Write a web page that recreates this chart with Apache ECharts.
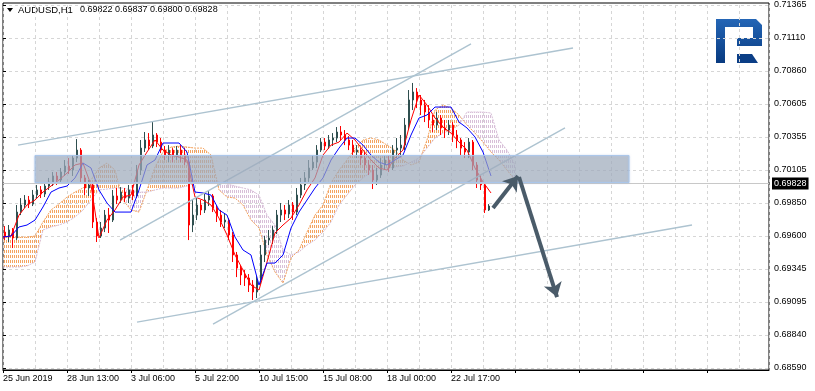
<!DOCTYPE html>
<html><head><meta charset="utf-8">
<script src="https://cdn.jsdelivr.net/npm/echarts@6/dist/echarts.min.js"></script>
<style>html,body{margin:0;padding:0;background:#fff}#c{width:815px;height:391px}</style>
</head><body><div id="c"></div>
<script>
// ---------- text ----------
const symbolName = 'AUDUSD,H1';
const headerOHLC = ['0.69822', '0.69837', '0.69800', '0.69828'];
const lastPrice = 0.69828;
const xTickLabels = ['25 Jun 2019', '28 Jun 13:00', '3 Jul 06:00', '5 Jul 22:00', '10 Jul 15:00', '15 Jul 08:00', '18 Jul 00:00', '22 Jul 17:00'];
const yTickLabels = ['0.68590', '0.68840', '0.69095', '0.69345', '0.69600', '0.69850', '0.70105', '0.70355', '0.70605', '0.70860', '0.71110', '0.71365'];
const priceMin = 0.68590, priceMax = 0.71365;

// ---------- candles (4-hour groups, x = hour offset of group centre) ----------
const candleOpen = [0.69629,0.69599,0.69645,0.69584,0.69782,0.69836,0.69874,0.69843,0.69912,0.69951,
0.69920,0.69981,0.70012,0.70058,0.70027,0.70088,0.70134,0.70103,0.70195,0.70256,
0.70043,0.69966,0.69989,0.69706,0.69599,0.69660,0.69759,0.69721,0.69905,0.69874,
0.69935,0.69889,0.69951,0.69905,0.70103,0.70271,0.70333,0.70287,0.70371,0.70317,
0.70256,0.70218,0.70256,0.70210,0.70256,0.70218,0.70164,0.69683,0.69759,0.69836,
0.69798,0.69874,0.69905,0.69813,0.69759,0.69706,0.69721,0.69607,0.69454,0.69354,
0.69301,0.69278,0.69224,0.69171,0.69262,0.69454,0.69568,0.69584,0.69645,0.69759,
0.69798,0.69767,0.69836,0.69782,0.69912,0.69989,0.70043,0.70119,0.70164,0.70256,
0.70317,0.70287,0.70333,0.70348,0.70394,0.70371,0.70333,0.70294,0.70241,0.70256,
0.70195,0.70142,0.70103,0.70027,0.70065,0.70142,0.70180,0.70119,0.70256,0.70271,
0.70294,0.70447,0.70639,0.70700,0.70639,0.70600,0.70547,0.70486,0.70447,0.70501,
0.70425,0.70409,0.70447,0.70371,0.70333,0.70271,0.70241,0.70317,0.70142,0.70027,
0.69989,0.69798];
const candleClose = [0.69599,0.69645,0.69584,0.69782,0.69836,0.69874,0.69843,0.69912,0.69951,0.69920,
0.69981,0.70012,0.70058,0.70027,0.70088,0.70134,0.70103,0.70195,0.70256,0.70043,
0.69966,0.69989,0.69706,0.69599,0.69660,0.69759,0.69721,0.69905,0.69874,0.69935,
0.69889,0.69951,0.69905,0.70103,0.70271,0.70333,0.70287,0.70371,0.70317,0.70256,
0.70218,0.70256,0.70210,0.70256,0.70218,0.70164,0.69683,0.69759,0.69836,0.69798,
0.69874,0.69905,0.69813,0.69759,0.69706,0.69721,0.69607,0.69454,0.69354,0.69301,
0.69278,0.69224,0.69171,0.69262,0.69454,0.69568,0.69584,0.69645,0.69759,0.69798,
0.69767,0.69836,0.69782,0.69912,0.69989,0.70043,0.70119,0.70164,0.70256,0.70317,
0.70287,0.70333,0.70348,0.70394,0.70371,0.70333,0.70294,0.70241,0.70256,0.70195,
0.70142,0.70103,0.70027,0.70065,0.70142,0.70180,0.70119,0.70256,0.70271,0.70294,
0.70447,0.70639,0.70700,0.70639,0.70600,0.70547,0.70486,0.70447,0.70501,0.70425,
0.70409,0.70447,0.70371,0.70333,0.70271,0.70241,0.70317,0.70142,0.70027,0.69989,
0.69798,0.69828];
const candleHigh = [0.69675,0.69683,0.69660,0.69836,0.69889,0.69912,0.69905,0.69951,0.69989,0.69981,
0.70012,0.70043,0.70088,0.70088,0.70119,0.70180,0.70195,0.70218,0.70340,0.70271,
0.70065,0.70027,0.70004,0.69736,0.69706,0.69798,0.69813,0.69951,0.69966,0.69973,
0.69966,0.69989,0.69989,0.70142,0.70333,0.70394,0.70386,0.70470,0.70386,0.70348,
0.70287,0.70294,0.70271,0.70287,0.70294,0.70271,0.70180,0.69874,0.69889,0.69874,
0.69920,0.69943,0.69920,0.69836,0.69798,0.69767,0.69736,0.69629,0.69477,0.69377,
0.69339,0.69308,0.69262,0.69293,0.69530,0.69599,0.69645,0.69675,0.69798,0.69851,
0.69836,0.69874,0.69859,0.69966,0.70043,0.70088,0.70180,0.70218,0.70294,0.70348,
0.70348,0.70371,0.70386,0.70432,0.70440,0.70409,0.70363,0.70333,0.70294,0.70271,
0.70241,0.70180,0.70142,0.70119,0.70195,0.70218,0.70218,0.70294,0.70348,0.70371,
0.70501,0.70715,0.70769,0.70730,0.70677,0.70639,0.70600,0.70524,0.70547,0.70524,
0.70486,0.70486,0.70470,0.70409,0.70348,0.70317,0.70348,0.70333,0.70164,0.70065,
0.70004,0.69843];
const candleLow = [0.69568,0.69553,0.69507,0.69568,0.69759,0.69813,0.69813,0.69828,0.69889,0.69889,
0.69897,0.69951,0.69981,0.69989,0.70012,0.70058,0.70073,0.70058,0.70164,0.70012,
0.69912,0.69905,0.69660,0.69553,0.69584,0.69629,0.69622,0.69706,0.69843,0.69851,
0.69859,0.69851,0.69874,0.69889,0.70065,0.70241,0.70256,0.70271,0.70279,0.70233,
0.70180,0.70164,0.70164,0.70180,0.70164,0.70142,0.69568,0.69629,0.69721,0.69759,
0.69775,0.69828,0.69782,0.69706,0.69668,0.69660,0.69568,0.69400,0.69285,0.69224,
0.69217,0.69171,0.69110,0.69125,0.69232,0.69400,0.69530,0.69538,0.69614,0.69706,
0.69721,0.69736,0.69721,0.69759,0.69889,0.69951,0.70012,0.70103,0.70119,0.70241,
0.70256,0.70264,0.70287,0.70317,0.70333,0.70294,0.70256,0.70218,0.70195,0.70142,
0.70103,0.70065,0.69958,0.69989,0.70043,0.70103,0.70088,0.70103,0.70195,0.70218,
0.70256,0.70409,0.70562,0.70577,0.70524,0.70470,0.70425,0.70394,0.70409,0.70371,
0.70348,0.70371,0.70317,0.70271,0.70218,0.70195,0.70195,0.70103,0.69966,0.69951,
0.69775,0.69790];
const candleHours = 4; // hours per drawn candle

// ---------- Ichimoku (sampled every 8 hours from the first bar) ----------
const ichiStep = 8;
const tenkan = [0.69591,0.69599,0.69759,0.69836,0.69874,0.69935,0.69981,0.70027,0.70080,0.70142,
0.70157,0.69989,0.69584,0.69721,0.69798,0.69897,0.69912,0.70142,0.70241,0.70333,
0.70256,0.70218,0.70203,0.70180,0.69897,0.69874,0.69836,0.69736,0.69607,0.69454,
0.69339,0.69224,0.69186,0.69400,0.69622,0.69683,0.69736,0.69836,0.69951,0.70043,
0.70218,0.70294,0.70317,0.70386,0.70333,0.70256,0.70180,0.70119,0.70103,0.70195,
0.70256,0.70486,0.70677,0.70600,0.70501,0.70432,0.70386,0.70317,0.70256,0.70119,
0.70012,0.69928];
const kijun = [0.69591,0.69599,0.69668,0.69683,0.69721,0.69821,0.69935,0.69966,0.69981,0.70043,
0.70157,0.70119,0.69951,0.69851,0.69782,0.69782,0.69782,0.69951,0.70142,0.70180,
0.70310,0.70310,0.70310,0.70241,0.69935,0.69928,0.69912,0.69798,0.69759,0.69591,
0.69492,0.69454,0.69224,0.69392,0.69392,0.69454,0.69660,0.69782,0.69874,0.69966,
0.70043,0.70180,0.70271,0.70348,0.70348,0.70294,0.70218,0.70164,0.70142,0.70180,
0.70218,0.70371,0.70501,0.70524,0.70585,0.70585,0.70585,0.70470,0.70425,0.70356,
0.70241,0.70058];
const senkouA = [0.69591,0.69591,0.69591,0.69591,0.69599,0.69706,0.69798,0.69843,0.69897,0.69935,
0.69966,0.70027,0.70119,0.70157,0.70103,0.69874,0.69798,0.69782,0.69951,0.70126,
0.70241,0.70279,0.70287,0.70279,0.70271,0.70271,0.70218,0.69951,0.69897,0.69889,
0.69836,0.69721,0.69660,0.69454,0.69324,0.69239,0.69431,0.69492,0.69629,0.69759,
0.69836,0.70004,0.70103,0.70180,0.70271,0.70333,0.70348,0.70333,0.70294,0.70256,
0.70180,0.70142,0.70164,0.70333,0.70562,0.70600,0.70577,0.70524,0.70447,0.70386,
0.70317,0.70241,0.70180,0.70103,0.70027];
const senkouB = [0.69362,0.69362,0.69362,0.69370,0.69400,0.69645,0.69668,0.69683,0.69706,0.69744,
0.69798,0.69874,0.69951,0.69958,0.69966,0.69966,0.69951,0.69935,0.69935,0.69951,
0.69966,0.69966,0.69966,0.69981,0.70004,0.70012,0.70012,0.70012,0.69996,0.69981,
0.69966,0.69951,0.69912,0.69759,0.69683,0.69492,0.69454,0.69477,0.69530,0.69568,
0.69629,0.69706,0.69836,0.69912,0.69989,0.70043,0.70088,0.70119,0.70119,0.70126,
0.70134,0.70164,0.70195,0.70271,0.70348,0.70386,0.70409,0.70447,0.70547,0.70547,
0.70547,0.70539,0.70333,0.70256,0.70142];

// ---------- drawn objects (hour offset, price) ----------
const trendLines = [
  [[15, 0.70294], [570, 0.71036]],
  [[117, 0.69568], [468, 0.71067]],
  [[210, 0.68926], [562, 0.70425]],
  [[134, 0.68941], [689, 0.69683]]
];
const zone = { x0: 32, x1: 626, top: 0.70214, bottom: 0.70008 };
const arrowPaths = [
  [[490, 0.69813], [515, 0.70058]],
  [[516, 0.70050], [554, 0.69132]]
];
const xSpan = 766;

// ---------- build ----------
const FONT = '"Liberation Sans", Arial, sans-serif';
function hatch(color) {
  const c = document.createElement('canvas');
  c.width = 2; c.height = 5;
  const g = c.getContext('2d');
  g.fillStyle = color; g.fillRect(0, 0, 1, 3);
  return { image: c, repeat: 'repeat' };
}
const orangeHatch = hatch('#f4a460');
const thistleHatch = hatch('#d8bfd8');

const candles = candleOpen.map((o, i) => [i * candleHours + candleHours / 2, o, candleClose[i], candleLow[i], candleHigh[i]]);
const ichiX = k => k * ichiStep;
const cloudData = senkouA.map((a, k) => [ichiX(k), a, senkouB[k]]);

const chart = echarts.init(document.getElementById('c'), null, { renderer: 'canvas' });
const gridLine = { show: true, lineStyle: { color: '#d6d6d6', type: [3, 3], width: 1 } };

chart.setOption({
  animation: false,
  backgroundColor: '#ffffff',
  grid: [
    { left: 3, right: 46, top: 5, bottom: 23 },
    { left: 3, right: 46, top: 3, bottom: 21, show: true, borderColor: '#000', borderWidth: 1, backgroundColor: 'transparent' }
  ],
  xAxis: [
    { gridIndex: 0, type: 'value', min: 0, max: xSpan, interval: 32,
      axisLine: { show: false }, axisTick: { show: false }, axisLabel: { show: false }, splitLine: gridLine },
    { gridIndex: 1, type: 'value', min: 0, max: xSpan, interval: 64, position: 'bottom',
      axisLine: { show: true, lineStyle: { color: '#000', width: 1 } },
      axisTick: { show: true, length: 3, lineStyle: { color: '#000' } },
      splitLine: { show: false },
      axisLabel: { formatter: v => xTickLabels[v / 64] || '', align: 'left', margin: 4,
        fontFamily: FONT, fontSize: 9, color: '#000', showMaxLabel: false } }
  ],
  yAxis: [
    { gridIndex: 0, type: 'value', min: 0, max: yTickLabels.length - 1, interval: 1, position: 'right',
      axisLine: { show: false },
      axisTick: { show: true, length: 3, lineStyle: { color: '#000' } },
      axisLabel: { formatter: v => yTickLabels[v] || '', margin: 5, fontFamily: FONT, fontSize: 9, color: '#000' },
      splitLine: gridLine },
    { gridIndex: 0, type: 'value', min: priceMin, max: priceMax, show: false, splitLine: { show: false } },
    { gridIndex: 1, type: 'value', min: 0, max: 1, show: false, splitLine: { show: false } }
  ],
  graphic: [
    { type: 'polygon', shape: { points: [[7, 8], [13, 8], [10, 12]] }, style: { fill: '#000' } },
    { type: 'text', x: 18, y: 5, style: { text: symbolName, font: '9.5px ' + FONT, fill: '#000' } },
    { type: 'text', x: 80, y: 5, style: { text: headerOHLC.join(' '), font: '9px ' + FONT, fill: '#000' } },
    { type: 'polygon', shape: { points: [[716, 19], [756, 19], [762, 25], [762, 46], [737, 46], [737, 38], [753, 38], [753, 27], [725, 27], [725, 63], [716, 63]] },
      style: { fill: { type: 'linear', x: 0, y: 0, x2: 0, y2: 1, colorStops: [{ offset: 0, color: '#2466b6' }, { offset: 1, color: '#083a80' }] } } },
    { type: 'polygon', shape: { points: [[737, 54], [752, 54], [758, 63], [737, 63]] }, style: { fill: '#0b3e86' } }
  ],
  series: [
    { type: 'custom', name: 'cloud', xAxisIndex: 0, yAxisIndex: 1, z: 1, silent: true, clip: true,
      data: cloudData, encode: { x: 0, y: [1, 2] },
      renderItem: function (params, api) {
        const k = params.dataIndex;
        if (k >= senkouA.length - 1) return null;
        const x0 = ichiX(k), x1 = ichiX(k + 1);
        const p1 = api.coord([x0, senkouA[k]]), p2 = api.coord([x1, senkouA[k + 1]]);
        const p3 = api.coord([x1, senkouB[k + 1]]), p4 = api.coord([x0, senkouB[k]]);
        const up = senkouA[k] + senkouA[k + 1] >= senkouB[k] + senkouB[k + 1];
        return { type: 'polygon', shape: { points: [p1, p2, p3, p4] }, style: { fill: up ? orangeHatch : thistleHatch, stroke: null } };
      } },
    { type: 'line', name: 'Senkou A', xAxisIndex: 0, yAxisIndex: 1, z: 1, silent: true, symbol: 'none',
      data: senkouA.map((v, k) => [ichiX(k), v]), lineStyle: { color: '#f4a460', width: 1, type: [2, 1] } },
    { type: 'line', name: 'Senkou B', xAxisIndex: 0, yAxisIndex: 1, z: 1, silent: true, symbol: 'none',
      data: senkouB.map((v, k) => [ichiX(k), v]), lineStyle: { color: '#d8bfd8', width: 1, type: [2, 1] } },
    { type: 'candlestick', name: 'AUDUSD', xAxisIndex: 0, yAxisIndex: 1, z: 2,
      dimensions: ['t', 'open', 'close', 'lowest', 'highest'],
      encode: { x: 't', y: ['open', 'close', 'lowest', 'highest'] },
      data: candles, barWidth: 2,
      itemStyle: { color: '#2f4f4f', color0: '#ff0000', borderColor: '#2f4f4f', borderColor0: '#ff0000', borderWidth: 1 },
      markLine: { silent: true, symbol: 'none', animation: false,
        data: [{ yAxis: lastPrice }],
        lineStyle: { color: '#c8c8c8', type: 'solid', width: 1 },
        label: { position: 'end', distance: 3, formatter: lastPrice.toFixed(5), backgroundColor: '#000', color: '#fff',
          fontFamily: FONT, fontSize: 9, padding: [2, 2, 1, 2] } } },
    { type: 'line', name: 'Tenkan', xAxisIndex: 0, yAxisIndex: 1, z: 3, silent: true, symbol: 'none',
      data: tenkan.map((v, k) => [ichiX(k), v]), lineStyle: { color: '#ff0000', width: 1 } },
    { type: 'line', name: 'Kijun', xAxisIndex: 0, yAxisIndex: 1, z: 3, silent: true, symbol: 'none',
      data: kijun.map((v, k) => [ichiX(k), v]), lineStyle: { color: '#0000ff', width: 1 } },
    { type: 'lines', name: 'trend', coordinateSystem: 'cartesian2d', xAxisIndex: 0, yAxisIndex: 1, z: 4, silent: true,
      data: trendLines.map(c => ({ coords: c })), symbol: 'none',
      lineStyle: { color: '#adc3d0', width: 1.4, opacity: 1 } },
    { type: 'custom', name: 'zone', xAxisIndex: 0, yAxisIndex: 1, z: 5, silent: true,
      data: [[zone.x0, zone.top]],
      renderItem: function (params, api) {
        const tl = api.coord([zone.x0, zone.top]);
        const br = api.coord([zone.x1, zone.bottom]);
        return { type: 'rect', shape: { x: tl[0], y: tl[1], width: br[0] - tl[0], height: br[1] - tl[1] },
          style: { fill: 'rgba(160,168,180,0.6)', stroke: '#aac6ea', lineWidth: 1, shadowBlur: 2, shadowColor: 'rgba(150,180,225,0.5)' } };
      } },
    { type: 'lines', name: 'arrows', coordinateSystem: 'cartesian2d', xAxisIndex: 0, yAxisIndex: 1, z: 6, silent: true,
      data: arrowPaths.map(c => ({ coords: c })), symbol: ['none', 'arrow'], symbolSize: 14,
      lineStyle: { color: '#4a5b69', width: 4, opacity: 1 } }
  ]
});
</script>
</body></html>
